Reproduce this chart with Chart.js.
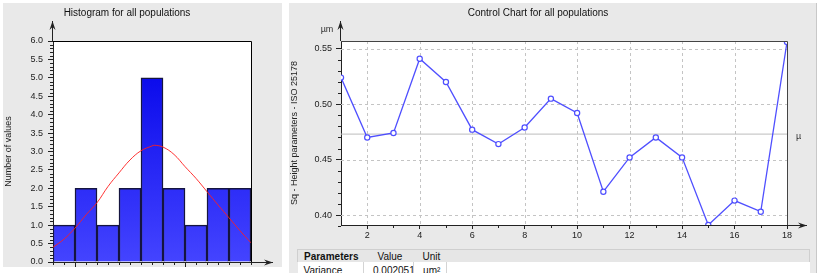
<!DOCTYPE html>
<html>
<head>
<meta charset="utf-8">
<script src="https://cdn.jsdelivr.net/npm/chart.js@4.4.1/dist/chart.umd.min.js"></script>
<style>
  html, body { margin: 0; padding: 0; background: #fff; width: 820px; height: 273px; overflow: hidden; }
  .panel { position: absolute; background: #e9e9e9; }
  #histPanel { left: 3px; top: 3px; width: 279px; height: 264px; }
  #ctrlPanel { left: 289px; top: 3px; width: 528px; height: 270px; border-right: 1px solid #c8c8c8; box-sizing: border-box; }
  canvas { position: absolute; left: 0; top: 0; }
  #params { position: absolute; left: 297px; top: 249px; width: 513px; border-collapse: collapse;
    font: 10px "Liberation Sans", Arial, sans-serif; color: #111; table-layout: fixed; }
  #params td { height: 12px; padding: 0 0 0 6px; white-space: nowrap; overflow: hidden; }
  #params tr.head td { background: #e6e6e6; border-top: 1px solid #cfcfcf; }
  #params tr.head td:first-child { border-left: 1px solid #cfcfcf; }
  #params tr.head td:last-child { border-right: 1px solid #cfcfcf; }
  #params tr.row td { background: #fff; border-right: 1px solid #d4d4d4; padding-top: 2px; }
</style>
</head>
<body>
<div id="histPanel" class="panel"><canvas id="hist" width="279" height="264"></canvas></div>
<div id="ctrlPanel" class="panel"><canvas id="ctrl" width="528" height="244"></canvas></div>
<table id="params">
  <colgroup><col style="width:66px"><col style="width:50px"><col style="width:33px"><col></colgroup>
  <tr class="head"><td><b>Parameters</b></td><td style="padding-left:14px">Value</td><td style="padding-left:9px">Unit</td><td></td></tr>
  <tr class="row"><td>Variance</td><td style="padding-left:9px">0.002051</td><td style="padding-left:9px">µm²</td><td style="border-right:none"></td></tr>
</table>
<script>
// Histogram data
const binLabels = ['1', '2', '3', '4', '5', '6', '7', '8', '9'];
const binCounts = [1, 2, 1, 2, 5, 2, 1, 2, 2];
const histTicks = [0, 0.5, 1, 1.5, 2, 2.5, 3, 3.5, 4, 4.5, 5, 5.5, 6];
// fitted normal curve (x in bin widths from the left edge)
const curveX = [0, 0.5, 1, 1.5, 2, 2.5, 3, 3.5, 4, 4.5, 4.6, 5, 5.5, 6, 6.5, 7, 7.5, 8, 8.5, 9];
const curveY = [0.40, 0.62, 0.92, 1.28, 1.61, 2.05, 2.42, 2.77, 3.02, 3.15, 3.17, 3.12, 2.92, 2.59, 2.27, 1.91, 1.55, 1.20, 0.85, 0.52];

// Control chart data
const sampleNo = [1, 2, 3, 4, 5, 6, 7, 8, 9, 10, 11, 12, 13, 14, 15, 16, 17, 18];
const sqValues = [0.524, 0.470, 0.474, 0.541, 0.520, 0.477, 0.464, 0.479, 0.505, 0.492,
                  0.421, 0.452, 0.470, 0.452, 0.391, 0.413, 0.403, 0.556];
const meanSq = 0.473;
const ctrlYTicks = [0.40, 0.45, 0.50, 0.55];
const ctrlXTicks = [2, 4, 6, 8, 10, 12, 14, 16, 18];

const tickFont = { family: 'Liberation Sans', size: 9 };
const titleFont = { family: 'Liberation Sans', size: 10, weight: 'normal' };
const inkColor = '#222';

function arrow(ctx, x1, y1, x2, y2) {
    ctx.beginPath(); ctx.moveTo(x1, y1); ctx.lineTo(x2, y2); ctx.stroke();
    const a = Math.atan2(y2 - y1, x2 - x1);
    ctx.beginPath();
    ctx.moveTo(x2, y2);
    ctx.lineTo(x2 - 9 * Math.cos(a) + 3 * Math.sin(a), y2 - 9 * Math.sin(a) - 3 * Math.cos(a));
    ctx.lineTo(x2 - 6 * Math.cos(a), y2 - 6 * Math.sin(a));
    ctx.lineTo(x2 - 9 * Math.cos(a) - 3 * Math.sin(a), y2 - 9 * Math.sin(a) + 3 * Math.cos(a));
    ctx.closePath(); ctx.fill();
}

const whiteArea = {
    id: 'whiteArea',
    beforeDraw(chart) {
        const { ctx, chartArea: a } = chart;
        ctx.save(); ctx.fillStyle = '#fff';
        ctx.fillRect(a.left, a.top, a.right - a.left, a.bottom - a.top);
        ctx.restore();
    }
};

// Histogram frame, arrows and minor ticks
const histFrame = {
    id: 'histFrame',
    afterDraw(chart) {
        const { ctx, chartArea: a } = chart;
        const y = chart.scales.y, x2 = chart.scales.x2;
        ctx.save();
        ctx.strokeStyle = '#000'; ctx.fillStyle = '#000'; ctx.lineWidth = 1;
        ctx.beginPath();
        ctx.moveTo(a.left, a.top + 0.5); ctx.lineTo(a.right + 0.5, a.top + 0.5); ctx.lineTo(a.right + 0.5, a.bottom);
        ctx.stroke();
        ctx.strokeStyle = inkColor; ctx.fillStyle = inkColor;
        arrow(ctx, a.left - 0.5, a.top, a.left - 0.5, a.top - 20);
        arrow(ctx, a.left, a.bottom + 0.5, a.right + 22, a.bottom + 0.5);
        ctx.beginPath();
        for (let i = 0; i <= 60; i++) {
            if (i % 5 === 0) continue;
            const py = Math.round(y.getPixelForValue(i / 10)) + 0.5;
            ctx.moveTo(a.left - 3, py); ctx.lineTo(a.left, py);
        }
        for (let i = 0; i <= 18; i++) {
            const px = Math.round(x2.getPixelForValue(i / 2)) + 0.5;
            const len = (i === 2 || i === 12) ? 6 : 3;
            ctx.moveTo(px, a.bottom); ctx.lineTo(px, a.bottom + len);
        }
        ctx.stroke();
        ctx.restore();
    }
};

new Chart(document.getElementById('hist'), {
    data: {
        labels: binLabels,
        datasets: [
            {
                type: 'line', label: 'Normal fit', order: 0, xAxisID: 'x2', yAxisID: 'y',
                data: curveX.map((v, i) => ({ x: v, y: curveY[i] })),
                borderColor: 'rgba(255,30,30,0.9)', borderWidth: 1, pointRadius: 0, tension: 0.4, fill: false
            },
            {
                type: 'bar', label: 'Number of values', order: 1, xAxisID: 'x', yAxisID: 'y',
                data: binCounts, grouped: false,
                backgroundColor: (c) => {
                    const area = c.chart.chartArea;
                    if (!area) return '#2020ff';
                    const g = c.chart.ctx.createLinearGradient(0, area.top, 0, area.bottom);
                    g.addColorStop(0, '#0000e8'); g.addColorStop(1, '#4444ff');
                    return g;
                },
                borderColor: '#151540', borderWidth: 1.5, barPercentage: 1, categoryPercentage: 1
            }
        ]
    },
    options: {
        responsive: false, animation: false,
        layout: { padding: { left: 0, right: 31, top: 0, bottom: 5 } },
        plugins: {
            legend: { display: false }, tooltip: { enabled: false },
            title: { display: true, text: 'Histogram for all populations', color: '#111', font: titleFont,
                padding: { top: 4, bottom: 22 } }
        },
        scales: {
            x: { type: 'category', display: false, offset: true },
            x2: { type: 'linear', display: false, min: 0, max: 9 },
            y: {
                min: 0, max: 6,
                afterBuildTicks: s => { s.ticks = histTicks.map(v => ({ value: v })); },
                afterFit: s => { s.width = 50; s.paddingTop = 0; s.paddingBottom = 0; },
                ticks: { color: '#222', font: tickFont, padding: 5, callback: v => v.toFixed(1) },
                grid: { drawOnChartArea: false, tickLength: 5, color: inkColor },
                border: { display: true, color: inkColor },
                title: { display: true, text: 'Number of values', color: '#222', font: tickFont, padding: 0 }
            }
        }
    },
    plugins: [whiteArea, histFrame]
});

// Control chart grid, frame, arrows, minor ticks and labels
const ctrlGrid = {
    id: 'ctrlGrid',
    beforeDatasetsDraw(chart) {
        const { ctx, chartArea: a } = chart;
        const x = chart.scales.x, y = chart.scales.y;
        ctx.save();
        ctx.strokeStyle = '#c4c4c4'; ctx.lineWidth = 1; ctx.setLineDash([3, 3]);
        ctx.beginPath();
        ctrlYTicks.forEach(v => {
            const py = Math.round(y.getPixelForValue(v)) + 0.5;
            ctx.moveTo(a.left, py); ctx.lineTo(a.right, py);
        });
        ctrlXTicks.forEach(v => {
            if (v >= x.max) return;
            const px = Math.round(x.getPixelForValue(v)) + 0.5;
            ctx.moveTo(px, a.top); ctx.lineTo(px, a.bottom);
        });
        ctx.stroke();
        ctx.restore();
    },
    afterDraw(chart) {
        const { ctx, chartArea: a } = chart;
        const x = chart.scales.x, y = chart.scales.y;
        ctx.save();
        ctx.strokeStyle = '#444'; ctx.lineWidth = 1;
        ctx.beginPath();
        ctx.moveTo(a.left, a.top + 0.5); ctx.lineTo(a.right + 0.5, a.top + 0.5); ctx.lineTo(a.right + 0.5, a.bottom);
        ctx.stroke();
        ctx.strokeStyle = inkColor; ctx.fillStyle = inkColor;
        arrow(ctx, a.left - 0.5, a.top, a.left - 0.5, a.top - 20);
        arrow(ctx, a.left, a.bottom + 0.5, a.right + 20, a.bottom + 0.5);
        ctx.beginPath();
        for (let i = 39; i <= 55; i++) {
            if (i % 5 === 0) continue;
            const py = Math.round(y.getPixelForValue(i / 100)) + 0.5;
            ctx.moveTo(a.left - 3, py); ctx.lineTo(a.left, py);
        }
        for (let i = 3; i <= 17; i += 2) {
            const px = Math.round(x.getPixelForValue(i)) + 0.5;
            ctx.moveTo(px, a.bottom); ctx.lineTo(px, a.bottom + 3);
        }
        ctx.stroke();
        ctx.fillStyle = '#333';
        ctx.font = '9px "Liberation Sans"';
        ctx.textAlign = 'center'; ctx.textBaseline = 'middle';
        ctx.fillText('µm', a.left - 14, a.top - 11);
        ctx.textAlign = 'left';
        ctx.fillText('µ', a.right + 9, y.getPixelForValue(meanSq) + 2);
        ctx.restore();
    }
};

new Chart(document.getElementById('ctrl'), {
    type: 'line',
    data: {
        datasets: [
            {
                label: 'Sq', order: 0,
                data: sampleNo.map((n, i) => ({ x: n, y: sqValues[i] })),
                borderColor: 'rgba(70,70,255,0.95)', borderWidth: 1.3, tension: 0,
                pointRadius: 2.6, pointBackgroundColor: '#fff', pointBorderColor: 'rgba(70,70,255,0.95)',
                pointBorderWidth: 1.2
            },
            {
                label: 'µ', order: 1,
                data: [{ x: sampleNo[0], y: meanSq }, { x: sampleNo[sampleNo.length - 1], y: meanSq }],
                borderColor: '#bdbdbd', borderWidth: 1, pointRadius: 0
            }
        ]
    },
    options: {
        responsive: false, animation: false,
        layout: { padding: { left: 0, right: 30, top: 0, bottom: 0 } },
        plugins: {
            legend: { display: false }, tooltip: { enabled: false },
            title: { display: true, text: 'Control Chart for all populations', color: '#111', font: titleFont,
                padding: { top: 4, bottom: 22 } }
        },
        scales: {
            x: {
                type: 'linear', min: 1, max: 18,
                afterBuildTicks: s => { s.ticks = ctrlXTicks.map(v => ({ value: v })); },
                afterFit: s => { s.height = 22; },
                ticks: { color: '#222', font: tickFont, padding: 1 },
                grid: { drawOnChartArea: false, tickLength: 4, color: inkColor },
                border: { display: true, color: inkColor }
            },
            y: {
                min: 0.391, max: 0.557,
                afterBuildTicks: s => { s.ticks = ctrlYTicks.map(v => ({ value: v })); },
                afterFit: s => { s.width = 52; },
                ticks: { color: '#222', font: tickFont, padding: 4, callback: v => v.toFixed(2) },
                grid: { drawOnChartArea: false, tickLength: 5, color: inkColor },
                border: { display: true, color: inkColor },
                title: { display: true, text: 'Sq - Height parameters - ISO 25178', color: '#222', font: tickFont, padding: 0 }
            }
        }
    },
    plugins: [whiteArea, ctrlGrid]
});
</script>
</body>
</html>
